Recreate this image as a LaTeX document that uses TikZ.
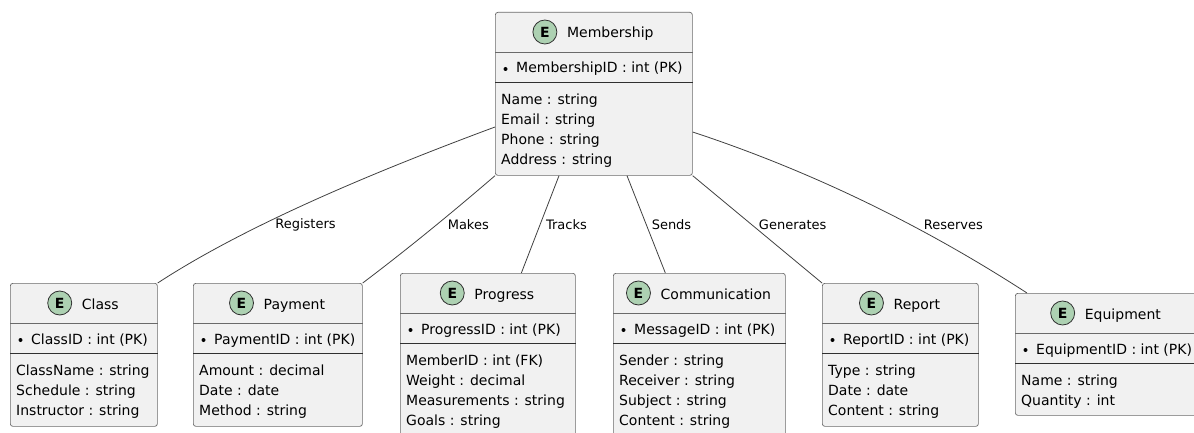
\documentclass[tikz,border=0pt]{standalone}
\usepackage{fontspec}
\setmainfont{DejaVu Sans}
\usetikzlibrary{calc}

\definecolor{boxfill}{HTML}{F1F1F1}
\definecolor{boxline}{HTML}{6A6A6A}
\definecolor{sepline}{HTML}{303030}
\definecolor{linkcol}{HTML}{404040}
\definecolor{entgreen}{HTML}{ADD1B2}

\tikzset{
  ebox/.style={rectangle, draw=boxline, line width=0.7pt, fill=boxfill,
               rounded corners=2.5pt, anchor=north west, inner sep=0pt},
  esep/.style={draw=boxline, line width=0.7pt},
  esepb/.style={draw=sepline, line width=0.9pt},
  etitle/.style={inner sep=0pt, anchor=base, font=\fontsize{14}{16}\selectfont},
  ecirc/.style={circle, draw=sepline, line width=0.8pt, fill=entgreen,
                minimum size=24pt, inner sep=0pt,
                font=\fontsize{14}{16}\selectfont\bfseries},
  eattr/.style={inner sep=0pt, anchor=base west, font=\fontsize{14}{16}\selectfont},
  link/.style={draw=linkcol, line width=0.8pt},
  lbl/.style={inner sep=1pt, font=\fontsize{13}{15}\selectfont}
}

% #1 name, #2 left, #3 top, #4 width, #5 height, #6 title, #7 key field, #8 fields
\newcommand{\entity}[8]{%
  \node[ebox, minimum width=#4pt, minimum height=#5pt] (#1) at (#2,#3) {};
  \draw[esep] ($(#1.north west)+(0,40)$) -- ($(#1.north east)+(0,40)$);
  \draw[esepb] ($(#1.north west)+(0,70)$) -- ($(#1.north east)+(0,70)$);
  \node[etitle] (#1-t) at ($(#1.north)+(16.5,26)$) {#6};
  \node[ecirc] (#1-c) at ($(#1-t.base west)+(-22,-6)$) {E};
  \fill[black] ($(#1.north west)+(10.5,57)$) circle (2.0pt);
  \node[eattr] (#1-k) at ($(#1.north west)+(21,61)$) {#7};
  \foreach \fld [count=\i] in {#8} {
    \node[eattr] at ($(#1.north west)+(6,72.5+20*\i)$) {\fld};
  }
}

\begin{document}
\begin{tikzpicture}[x=1pt, y=-1pt]
  \useasboundingbox (0,0) rectangle (1194,433);
  \clip (0,0) rectangle (1194,433);

  \entity{mem}{495}{12}{197}{163}{Membership}{MembershipID : int (PK)}%
    {Name : string, Email : string, Phone : string, Address : string}
  \entity{cls}{10}{283}{147}{143}{Class}{ClassID : int (PK)}%
    {ClassName : string, Schedule : string, Instructor : string}
  \entity{pay}{193}{283}{169}{143}{Payment}{PaymentID : int (PK)}%
    {Amount : decimal, Date : date, Method : string}
  \entity{prog}{400}{273}{175}{163}{Progress}{ProgressID : int (PK)}%
    {MemberID : int (FK), Weight : decimal, Measurements : string, Goals : string}
  \entity{comm}{613}{273}{172}{163}{Communication}{MessageID : int (PK)}%
    {Sender : string, Receiver : string, Subject : string, Content : string}
  \entity{rep}{822}{283}{156}{143}{Report}{ReportID : int (PK)}%
    {Type : string, Date : date, Content : string}
  \entity{equ}{1015}{293}{182}{122}{Equipment}{EquipmentID : int (PK)}%
    {Name : string, Quantity : int}

  % relationships
  \draw[link] ($(mem.north west)+(0,115)$) .. controls +(-151,56) and +(75,-49) .. (cls.north east);
  \draw[link] (mem.south west) .. controls +(-43,37) and +(45,-34) .. (pay.north east);
  \draw[link] ($(mem.south west)+(64,0)$) -- ($(prog.north)+(33.5,0)$);
  \draw[link] ($(mem.south west)+(132,0)$) -- ($(comm.north)+(-34,0)$);
  \draw[link] (mem.south east) -- (rep.north west);
  \draw[link] ($(mem.north east)+(0,120)$) .. controls +(118,39) and +(-105,-68) .. ($(equ.north west)+(12,0)$);

  \node[lbl] (l-reg) at (305.5,225) {Registers};
  \node[lbl] (l-mak) at (468.3,225) {Makes};
  \node[lbl] (l-trk) at (566.5,225) {Tracks};
  \node[lbl] (l-snd) at (671.5,225) {Sends};
  \node[lbl] (l-gen) at (792.7,225) {Generates};
  \node[lbl] (l-res) at (953.3,225) {Reserves};
\end{tikzpicture}
\end{document}
